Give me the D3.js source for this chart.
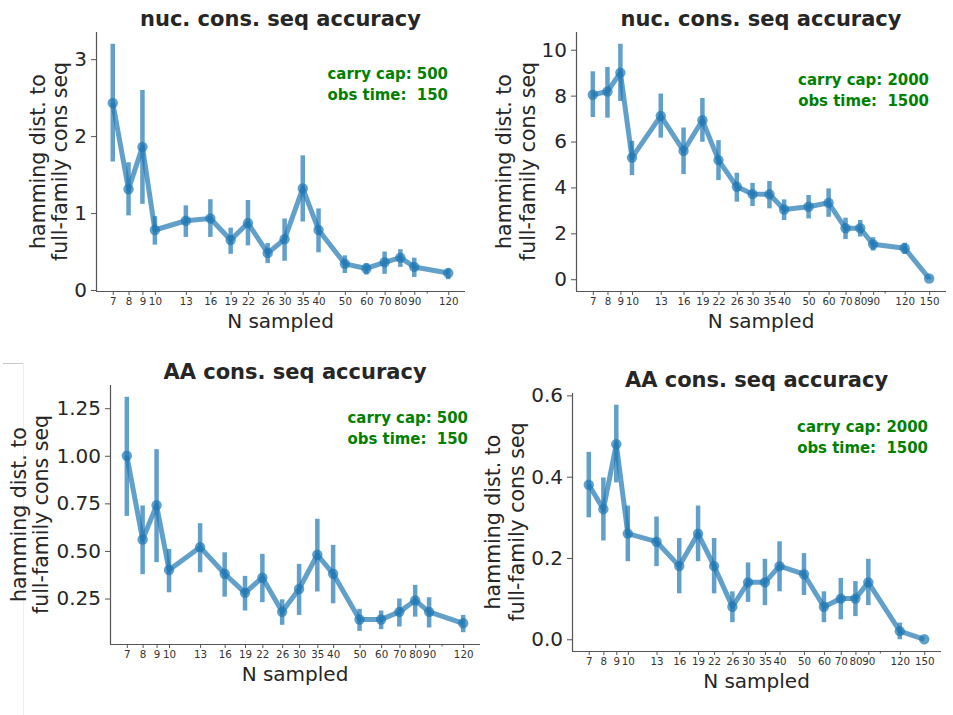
<!DOCTYPE html>
<html>
<head>
<meta charset="utf-8">
<script src="https://cdn.jsdelivr.net/npm/d3@7/dist/d3.min.js"></script>
<style>
  body { margin: 0; background: #fff; }
  svg { display: block; }
</style>
</head>
<body>
<svg id="fig" width="953" height="715"></svg>
<script>
// Number of sequences sampled from each family
const nSampledShort = [7, 8, 9, 10, 13, 16, 19, 22, 26, 30, 35, 40, 50, 60, 70, 80, 90, 120];
const nSampledLong  = [7, 8, 9, 10, 13, 16, 19, 22, 26, 30, 35, 40, 50, 60, 70, 80, 90, 120, 150];

// Nucleotide consensus, carry cap 500 / obs time 150: mean and 95% CI
const nuc500Mean = [2.43, 1.31, 1.86, 0.78, 0.90, 0.93, 0.65, 0.87, 0.48, 0.66, 1.32, 0.78, 0.34, 0.28, 0.36, 0.42, 0.30, 0.22];
const nuc500Lo   = [1.67, 0.97, 1.12, 0.59, 0.69, 0.69, 0.47, 0.58, 0.35, 0.38, 0.89, 0.49, 0.22, 0.20, 0.21, 0.30, 0.17, 0.14];
const nuc500Hi   = [3.20, 1.66, 2.60, 0.96, 1.10, 1.18, 0.81, 1.17, 0.61, 0.93, 1.75, 1.06, 0.45, 0.35, 0.50, 0.53, 0.42, 0.28];

// Nucleotide consensus, carry cap 2000 / obs time 1500
const nuc2000Mean = [8.04, 8.18, 9.00, 5.30, 7.12, 5.59, 6.93, 5.19, 4.03, 3.71, 3.70, 3.04, 3.16, 3.33, 2.22, 2.22, 1.52, 1.35, 0.03];
const nuc2000Lo   = [7.07, 7.04, 7.77, 4.54, 6.17, 4.58, 5.99, 4.32, 3.38, 3.19, 3.09, 2.58, 2.65, 2.72, 1.75, 1.86, 1.25, 1.10, 0.00];
const nuc2000Hi   = [9.06, 9.25, 10.26, 6.03, 8.09, 6.61, 7.90, 6.06, 4.64, 4.20, 4.28, 3.48, 3.67, 3.96, 2.68, 2.58, 1.83, 1.59, 0.06];

// Amino-acid consensus, carry cap 500 / obs time 150
const aa500Mean = [1.00, 0.56, 0.74, 0.40, 0.52, 0.38, 0.28, 0.36, 0.18, 0.30, 0.48, 0.38, 0.14, 0.14, 0.18, 0.24, 0.18, 0.12];
const aa500Lo   = [0.684, 0.378, 0.441, 0.283, 0.388, 0.26, 0.187, 0.231, 0.112, 0.164, 0.287, 0.225, 0.08, 0.089, 0.103, 0.155, 0.098, 0.073];
const aa500Hi   = [1.31, 0.739, 1.035, 0.511, 0.646, 0.493, 0.369, 0.485, 0.246, 0.432, 0.669, 0.532, 0.196, 0.187, 0.25, 0.322, 0.257, 0.164];

// Amino-acid consensus, carry cap 2000 / obs time 1500
const aa2000Mean = [0.38, 0.32, 0.48, 0.26, 0.24, 0.18, 0.26, 0.18, 0.08, 0.14, 0.14, 0.18, 0.16, 0.08, 0.10, 0.10, 0.14, 0.02, 0.00];
const aa2000Lo   = [0.30, 0.243, 0.386, 0.192, 0.18, 0.113, 0.192, 0.113, 0.042, 0.092, 0.084, 0.118, 0.109, 0.042, 0.049, 0.057, 0.084, 0.00, 0.00];
const aa2000Hi   = [0.461, 0.398, 0.577, 0.329, 0.302, 0.249, 0.329, 0.249, 0.118, 0.189, 0.198, 0.241, 0.212, 0.118, 0.151, 0.143, 0.198, 0.041, 0.00];

// y tick values and their labels
const nuc500Ticks = [0, 1, 2, 3];
const nuc500TickLabels = ["0", "1", "2", "3"];
const nuc2000Ticks = [0, 2, 4, 6, 8, 10];
const nuc2000TickLabels = ["0", "2", "4", "6", "8", "10"];
const aa500Ticks = [0.25, 0.5, 0.75, 1.0, 1.25];
const aa500TickLabels = ["0.25", "0.50", "0.75", "1.00", "1.25"];
const aa2000Ticks = [0.0, 0.2, 0.4, 0.6];
const aa2000TickLabels = ["0.0", "0.2", "0.4", "0.6"];

// extra unlabeled tick on the log axis
const xMinorTicks = [100];

const titles = ["nuc. cons. seq accuracy", "nuc. cons. seq accuracy", "AA cons. seq accuracy", "AA cons. seq accuracy"];
const carryCaps = ["500", "2000", "500", "2000"];
const obsTimes = ["150", "1500", "150", "1500"];
const yLabelLines = ["hamming dist. to", "full-family cons seq"];
const xLabel = "N sampled";

// layout of the four axes (pixel boxes) and label placement
const layout = [
  { l: 96,  r: 465, t: 32,  b: 291, yl: [-51, -29], ax: 448, ay: 79 },
  { l: 576, r: 946, t: 32,  b: 291, yl: [-65, -41], ax: 929, ay: 85 },
  { l: 110, r: 480, t: 385, b: 644, yl: [-84, -62], ax: 468, ay: 423 },
  { l: 572, r: 941, t: 393, b: 651, yl: [-72, -48], ax: 928, ay: 432 }
];

const panels = [
  { n: nSampledShort, mean: nuc500Mean,  lo: nuc500Lo,  hi: nuc500Hi,  ticks: nuc500Ticks,  tickLabels: nuc500TickLabels },
  { n: nSampledLong,  mean: nuc2000Mean, lo: nuc2000Lo, hi: nuc2000Hi, ticks: nuc2000Ticks, tickLabels: nuc2000TickLabels },
  { n: nSampledShort, mean: aa500Mean,   lo: aa500Lo,   hi: aa500Hi,   ticks: aa500Ticks,   tickLabels: aa500TickLabels },
  { n: nSampledLong,  mean: aa2000Mean,  lo: aa2000Lo,  hi: aa2000Hi,  ticks: aa2000Ticks,  tickLabels: aa2000TickLabels }
];

const FONT = "'DejaVu Sans', 'Liberation Sans', sans-serif";
const BLUE = "#1f77b4";
const ALPHA = 0.7;
const INK = "#262626";
const SPINE = "#555";

const svg = d3.select("#fig");

// faint frame edge on the lower left
svg.append("line").attr("x1", 3).attr("x2", 23).attr("y1", 363.5).attr("y2", 363.5)
  .attr("stroke", "#c8c8c8").attr("stroke-width", 1);
svg.append("line").attr("x1", 23.5).attr("x2", 23.5).attr("y1", 363).attr("y2", 715)
  .attr("stroke", "#efefef").attr("stroke-width", 1);

panels.forEach((p, i) => {
  const L = layout[i];
  const g = svg.append("g");

  // log x scale with 5% padding in log space
  const lx0 = Math.log10(d3.min(p.n)), lx1 = Math.log10(d3.max(p.n));
  const px = (lx1 - lx0) * 0.05;
  const x = d3.scaleLog().domain([Math.pow(10, lx0 - px), Math.pow(10, lx1 + px)]).range([L.l, L.r]);

  // linear y scale spanning the CI extent with 5% padding
  const y0 = d3.min(p.lo), y1 = d3.max(p.hi);
  const py = (y1 - y0) * 0.05;
  const y = d3.scaleLinear().domain([y0 - py, y1 + py]).range([L.b, L.t]);

  // y axis
  const yAxis = d3.axisLeft(y).tickValues(p.ticks)
    .tickFormat((d, k) => p.tickLabels[k]).tickSize(5).tickPadding(4);
  const gy = g.append("g").attr("transform", `translate(${L.l},0)`).call(yAxis);
  gy.select(".domain").attr("stroke", SPINE).attr("stroke-width", 1.2)
    .attr("d", `M0.5,${L.t}V${L.b}`);
  gy.selectAll(".tick line").attr("stroke", SPINE).attr("stroke-width", 1);
  gy.selectAll(".tick text").attr("font-family", FONT).attr("font-size", 20).attr("fill", INK);

  // x axis with one tick per sample size
  const xAxis = d3.axisBottom(x).tickValues(p.n).tickFormat(d3.format("d")).tickSize(4).tickPadding(3);
  const gx = g.append("g").attr("transform", `translate(0,${L.b})`).call(xAxis);
  gx.select(".domain").attr("stroke", SPINE).attr("stroke-width", 1.2)
    .attr("d", `M${L.l},0.5H${L.r}`);
  gx.selectAll(".tick line").attr("stroke", SPINE).attr("stroke-width", 1);
  gx.selectAll(".tick text").attr("font-family", FONT).attr("font-size", 10.3).attr("fill", "#333");
  const xMinor = d3.axisBottom(x).tickValues(xMinorTicks).tickFormat("").tickSize(2.5);
  const gm = g.append("g").attr("transform", `translate(0,${L.b})`).call(xMinor);
  gm.select(".domain").remove();
  gm.selectAll(".tick line").attr("stroke", SPINE).attr("stroke-width", 1);

  // title
  g.append("text").attr("x", (L.l + L.r) / 2).attr("y", L.t - 6)
    .attr("text-anchor", "middle").attr("font-family", FONT).attr("font-weight", "bold")
    .attr("font-size", 21).attr("fill", INK).text(titles[i]);

  // x label
  g.append("text").attr("x", (L.l + L.r) / 2).attr("y", L.b + 37)
    .attr("text-anchor", "middle").attr("font-family", FONT).attr("font-size", 20)
    .attr("fill", INK).text(xLabel);

  // two-line y label
  const cy = (L.t + L.b) / 2;
  yLabelLines.forEach((line, k) => {
    g.append("text")
      .attr("transform", `translate(${L.l + L.yl[k]},${cy}) rotate(-90)`)
      .attr("text-anchor", "middle").attr("font-family", FONT).attr("font-size", 20.5)
      .attr("fill", INK).text(line);
  });

  // error bars
  g.append("g").selectAll("line").data(p.n).join("line")
    .attr("x1", d => x(d)).attr("x2", d => x(d))
    .attr("y1", (d, k) => y(p.lo[k])).attr("y2", (d, k) => y(p.hi[k]))
    .attr("stroke", BLUE).attr("stroke-opacity", ALPHA).attr("stroke-width", 4.5);

  // connecting line
  const line = d3.line().x(d => x(d[0])).y(d => y(d[1]));
  g.append("path").datum(p.n.map((d, k) => [d, p.mean[k]]))
    .attr("d", line).attr("fill", "none").attr("stroke", BLUE)
    .attr("stroke-opacity", ALPHA).attr("stroke-width", 5).attr("stroke-linejoin", "round");

  // point markers
  g.append("g").selectAll("circle").data(p.n).join("circle")
    .attr("cx", d => x(d)).attr("cy", (d, k) => y(p.mean[k])).attr("r", 5.2)
    .attr("fill", BLUE).attr("fill-opacity", ALPHA);

  // simulation settings annotation
  const ann = g.append("text").attr("text-anchor", "end").attr("font-family", "'DejaVu Sans Condensed', 'DejaVu Sans', sans-serif")
    .attr("font-weight", "bold").attr("font-size", 16.6).attr("fill", "#008000");
  ann.append("tspan").attr("x", L.ax).attr("y", L.ay).text(`carry cap: ${carryCaps[i]}`);
  ann.append("tspan").attr("x", L.ax).attr("y", L.ay + 20.5).attr("xml:space", "preserve")
    .style("white-space", "pre").text(`obs time:  ${obsTimes[i]}`);
});
</script>
</body>
</html>
